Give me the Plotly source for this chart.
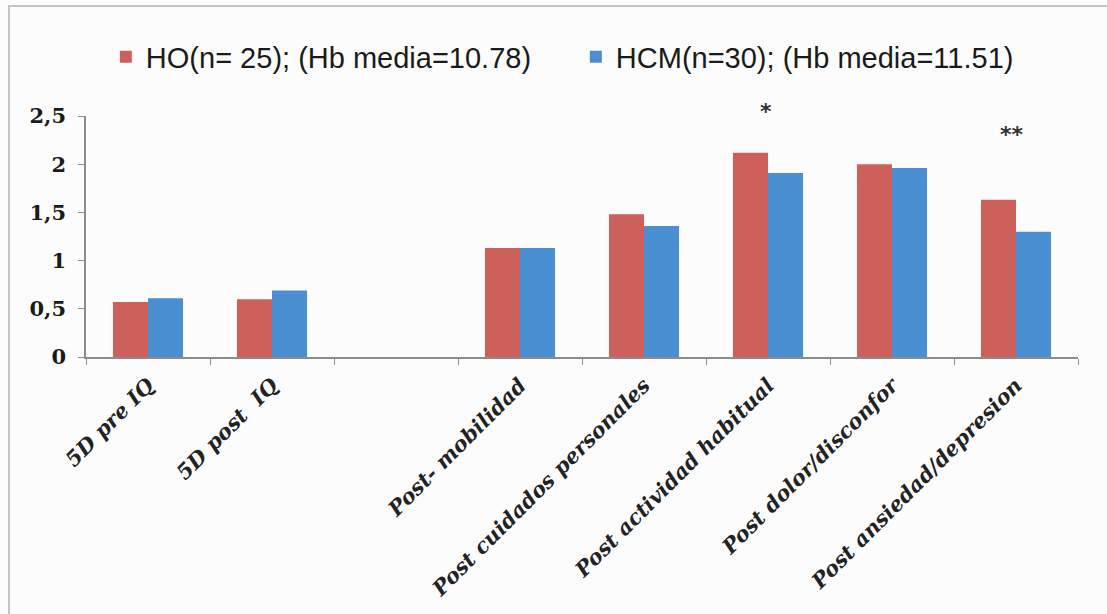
import plotly.graph_objects as go

categories = ["5D pre IQ", "5D post\u00a0 IQ", " ", "Post- mobilidad",
              "Post cuidados personales", "Post actividad habitual",
              "Post dolor/disconfor", "Post ansiedad/depresion"]
ho_values = [0.57, 0.60, None, 1.13, 1.48, 2.12, 2.00, 1.63]
hcm_values = [0.61, 0.69, None, 1.13, 1.36, 1.91, 1.96, 1.30]
series_names = ["HO(n= 25); (Hb media=10.78)", "HCM(n=30); (Hb media=11.51)"]
y_ticks = [0, 0.5, 1, 1.5, 2, 2.5]
signif_labels = [("Post actividad habitual", "*"), ("Post ansiedad/depresion", "**")]

RED = "#CE605C"
BLUE = "#4A8FD2"
BG = "#FCFCFD"

fig = go.Figure()
fig.add_trace(go.Bar(x=categories, y=ho_values, name=series_names[0],
                     marker=dict(color=RED, line=dict(width=0))))
fig.add_trace(go.Bar(x=categories, y=hcm_values, name=series_names[1],
                     marker=dict(color=BLUE, line=dict(width=0))))

sig_pos = [(1.02, -2), (0.925, -4)]
for (cat, txt), (yp, xs) in zip(signif_labels, sig_pos):
    fig.add_annotation(x=cat, xref="x", y=yp, yref="paper", text=txt, showarrow=False,
                       xshift=xs, yanchor="middle",
                       font=dict(family="DejaVu Sans", size=22, color="#333333", weight="bold"))

fig.add_shape(type="rect", xref="paper", yref="paper",
              x0=-0.0776, x1=1.2, y0=-1.5, y1=1.4564,
              line=dict(color="#C4C4C4", width=2), fillcolor="rgba(0,0,0,0)", layer="below")

fig.update_layout(
    width=1107, height=614,
    margin=dict(l=86, r=29, t=116, b=257),
    paper_bgcolor=BG, plot_bgcolor=BG,
    separators=",.",
    barmode="group", bargap=0.435, bargroupgap=0,
    showlegend=True,
    legend=dict(orientation="h", x=0.02, xanchor="left", y=1.245, yanchor="middle",
                font=dict(family="Liberation Sans", size=29, color="#1a1a1a"),
                entrywidth=425, entrywidthmode="pixels",
                bgcolor="rgba(0,0,0,0)", traceorder="normal"),
    xaxis=dict(type="category", categoryorder="array", categoryarray=categories,
               range=[-0.5, 7.5], tickangle=-45, tickson="boundaries",
               ticks="outside", ticklen=6, tickcolor="#8C8C8C",
               showline=True, linecolor="#8C8C8C", linewidth=1.5,
               showgrid=False, zeroline=False, ticklabelstandoff=6,
               tickfont=dict(family="DejaVu Serif", size=21, color="#222222",
                             style="italic", weight="bold")),
    yaxis=dict(range=[0, 2.5], tickvals=y_ticks, ticks="outside", ticklen=6,
               tickcolor="#8C8C8C", showline=True, linecolor="#8C8C8C", linewidth=1.5,
               showgrid=False, zeroline=False, ticklabelstandoff=8,
               tickfont=dict(family="DejaVu Serif", size=21, color="#1a1a1a", weight="bold")),
)

fig.write_html("out.html", config={"displayModeBar": False},
               post_script="document.body.style.margin='0';")
